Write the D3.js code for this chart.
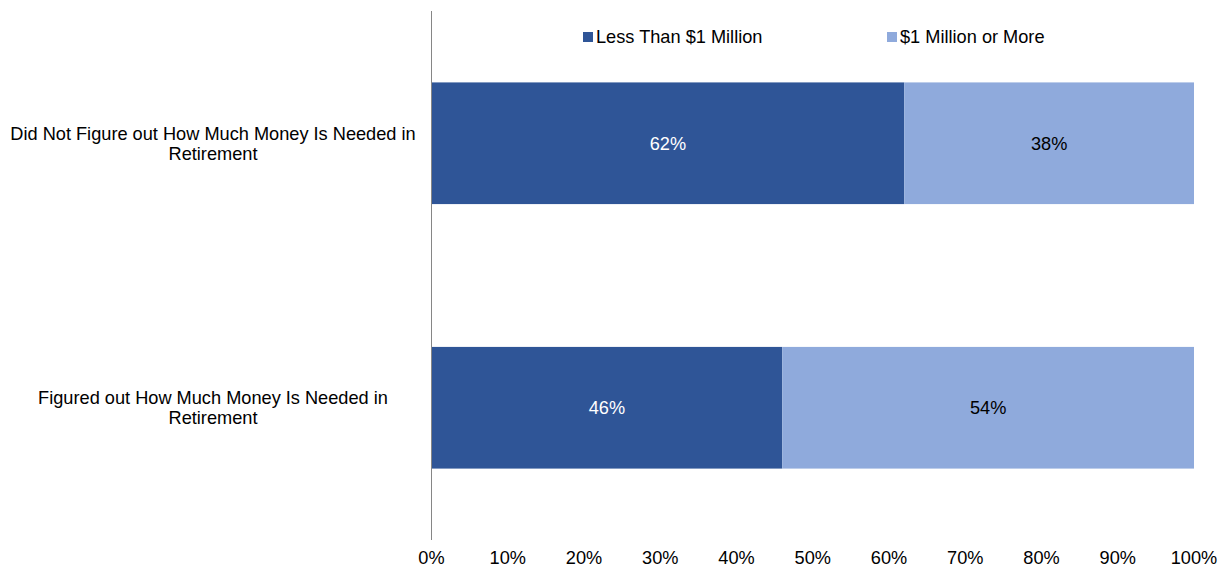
<!DOCTYPE html>
<html>
<head>
<meta charset="utf-8">
<script src="https://cdn.jsdelivr.net/npm/d3@7"></script>
<style>
  body { margin: 0; background: #fff; overflow: hidden; }
  svg { display: block; font-family: "Liberation Sans", Arial, sans-serif; }
</style>
</head>
<body>
<svg id="chart"></svg>
<script>
(function () {
  const width = 1219;
  const height = 569;

  const categories = [
    ["Did Not Figure out How Much Money Is Needed in", "Retirement"],
    ["Figured out How Much Money Is Needed in", "Retirement"]
  ];
  const seriesNames = ["Less Than $1 Million", "$1 Million or More"];
  const lessThan = [62, 46];
  const millionOrMore = [38, 54];
  const ticks = [0, 10, 20, 30, 40, 50, 60, 70, 80, 90, 100];

  const colors = ["#2F5597", "#8FAADC"];
  const labelColors = ["#fff", "#000"];
  const fs = 18.2;

  const svg = d3.select("#chart")
    .attr("width", width)
    .attr("height", height);

  const x = d3.scaleLinear().domain([0, 100]).range([431.5, 1194]);
  const y = d3.scaleBand().domain(d3.range(categories.length)).range([11, 540]).paddingInner(0.54).paddingOuter(0.27);

  const rows = categories.map((c, i) => ({ i, vals: [lessThan[i], millionOrMore[i]] }));

  // bars
  rows.forEach(r => {
    let start = 0;
    r.vals.forEach((v, s) => {
      svg.append("rect")
        .attr("x", x(start))
        .attr("y", y(r.i))
        .attr("width", x(start + v) - x(start))
        .attr("height", y.bandwidth())
        .attr("fill", colors[s]);
      svg.append("text")
        .attr("x", (x(start) + x(start + v)) / 2)
        .attr("y", y(r.i) + y.bandwidth() / 2)
        .attr("dy", "0.35em")
        .attr("text-anchor", "middle")
        .attr("font-size", fs)
        .attr("fill", labelColors[s])
        .text(v + "%");
      start += v;
    });
  });

  // vertical axis line
  svg.append("line")
    .attr("x1", 431.5).attr("x2", 431.5)
    .attr("y1", 11).attr("y2", 540)
    .attr("stroke", "#868686").attr("stroke-width", 1);

  // category labels
  categories.forEach((lines, i) => {
    const cy = y(i) + y.bandwidth() / 2;
    const t = svg.append("text")
      .attr("text-anchor", "middle")
      .attr("font-size", fs)
      .attr("fill", "#000");
    lines.forEach((ln, k) => {
      t.append("tspan")
        .attr("x", 213)
        .attr("y", cy + (k - (lines.length - 1) / 2) * 20)
        .attr("dy", "0.35em")
        .text(ln);
    });
  });

  // x tick labels
  svg.selectAll(".tick-label")
    .data(ticks)
    .join("text")
    .attr("class", "tick-label")
    .attr("x", d => x(d))
    .attr("y", 564)
    .attr("text-anchor", "middle")
    .attr("font-size", fs)
    .attr("fill", "#000")
    .text(d => d + "%");

  // legend
  const legendX = [583, 887];
  seriesNames.forEach((name, s) => {
    svg.append("rect")
      .attr("x", legendX[s]).attr("y", 32)
      .attr("width", 10).attr("height", 10)
      .attr("fill", colors[s]);
    svg.append("text")
      .attr("x", legendX[s] + 13)
      .attr("y", 37)
      .attr("dy", "0.35em")
      .attr("font-size", fs)
      .attr("fill", "#000")
      .text(name);
  });
})();
</script>
</body>
</html>
